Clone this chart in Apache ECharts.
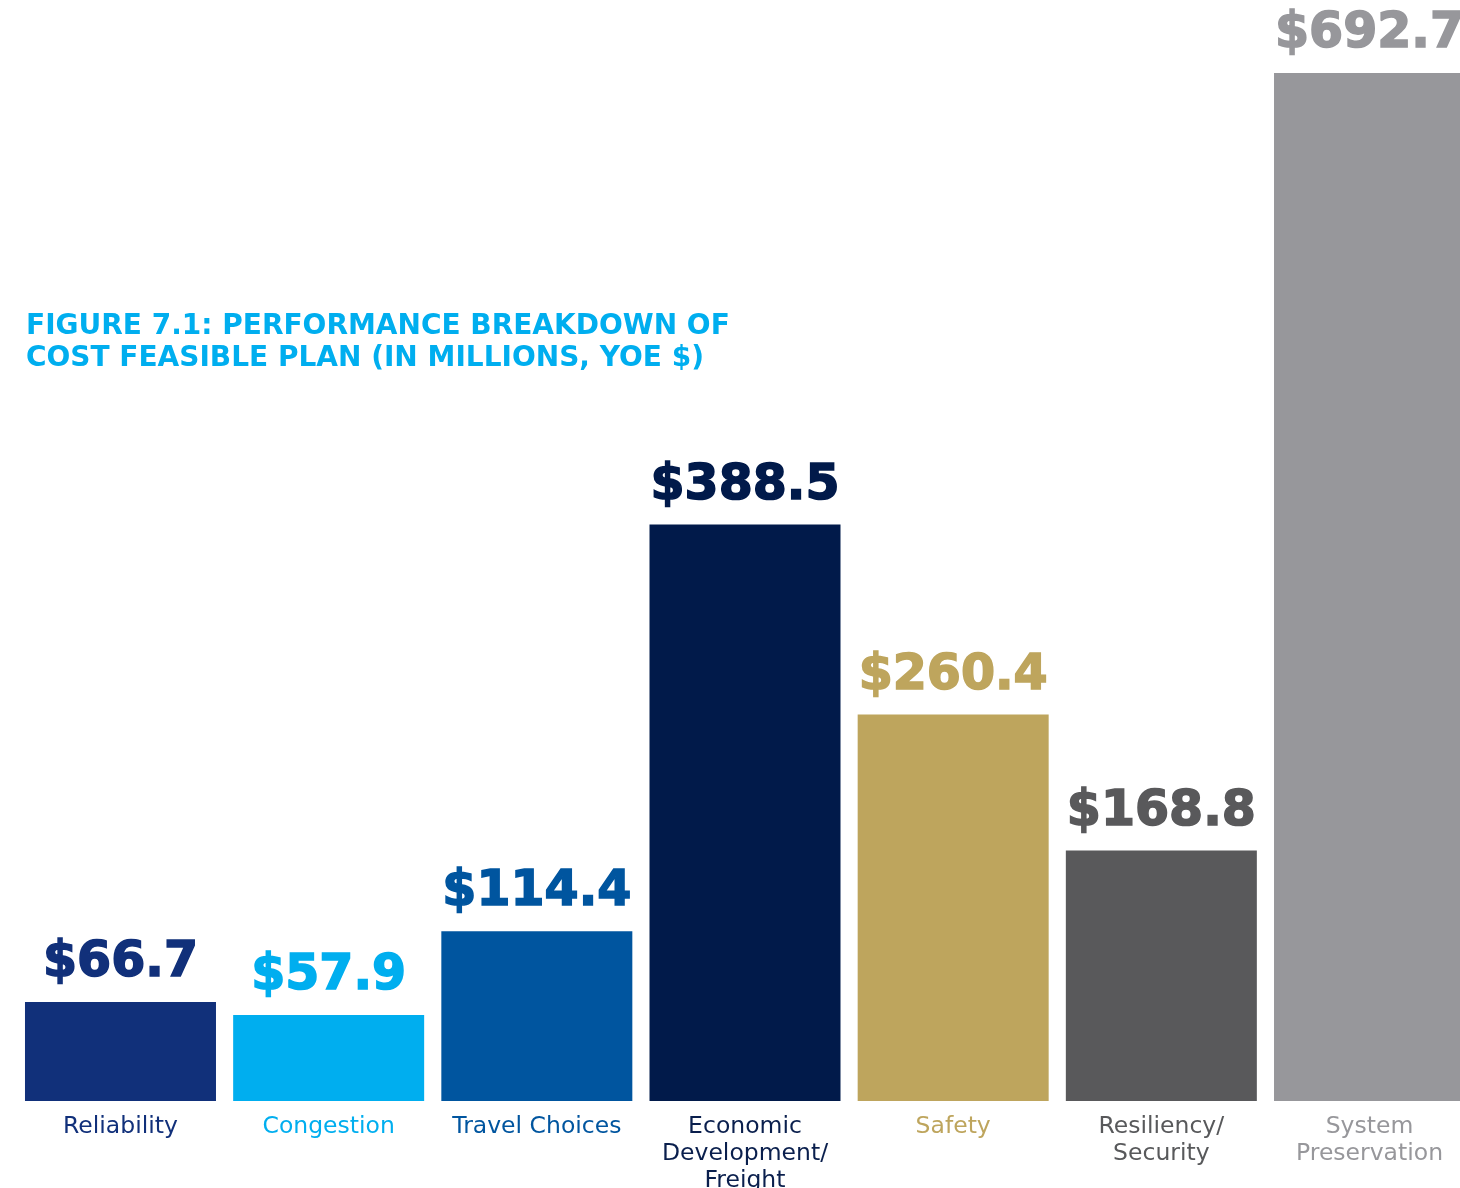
<!DOCTYPE html>
<html>
<head>
<meta charset="utf-8">
<script src="https://cdn.jsdelivr.net/npm/echarts@6/dist/echarts.min.js"></script>
<style>
  html, body { margin: 0; padding: 0; background: #ffffff; }
  #chart { width: 1460px; height: 1188px; }
</style>
</head>
<body>
<div id="chart"></div>
<script>
// Performance categories and funding (millions, YOE $)
const categories = [
  'Reliability',
  'Congestion',
  'Travel Choices',
  'Economic\nDevelopment/\nFreight',
  'Safety',
  'Resiliency/\nSecurity',
  'System\nPreservation'
];
const amounts = [66.7, 57.9, 114.4, 388.5, 260.4, 168.8, 692.7];
const barColors = ['#11307a', '#00aeef', '#00559f', '#011a4a', '#bea55d', '#59595b', '#97979b'];
const labelColors = ['#11307a', '#00aeef', '#00559f', '#0a1f4d', '#bea55d', '#58595b', '#97979b'];

const chart = echarts.init(document.getElementById('chart'), null, { renderer: 'canvas' });

chart.setOption({
  animation: false,
  backgroundColor: '#ffffff',
  title: {
    text: 'FIGURE 7.1: PERFORMANCE BREAKDOWN OF\nCOST FEASIBLE PLAN (IN MILLIONS, YOE $)',
    left: 21,
    top: 306,
    textStyle: {
      fontFamily: 'DejaVu Sans',
      fontWeight: 'bold',
      fontSize: 28,
      lineHeight: 32,
      color: '#00aeef'
    }
  },
  grid: {
    left: 16.4, right: -13.6, top: 62.1, bottom: 87,
    containLabel: false,
    outerBoundsMode: 'none'
  },
  xAxis: {
    type: 'category',
    data: categories,
    axisLine: { show: false },
    axisTick: { show: false },
    axisLabel: {
      margin: 12,
      interval: 0,
      fontFamily: 'DejaVu Sans',
      fontSize: 23.5,
      lineHeight: 27,
      color: (value, index) => labelColors[index]
    }
  },
  yAxis: {
    type: 'value',
    min: 0,
    max: 700,
    show: false,
    splitLine: { show: false }
  },
  series: [{
    type: 'bar',
    barWidth: 191,
    data: amounts.map((v, i) => ({
      value: v,
      itemStyle: { color: barColors[i] },
      label: { color: barColors[i], textBorderColor: barColors[i] }
    })),
    label: {
      show: true,
      position: 'top',
      distance: 14,
      fontFamily: 'DejaVu Sans',
      fontWeight: 'bold',
      fontSize: 49,
      textBorderWidth: 1.6,
      formatter: p => '$' + p.value.toFixed(1)
    }
  }]
});
</script>
</body>
</html>
